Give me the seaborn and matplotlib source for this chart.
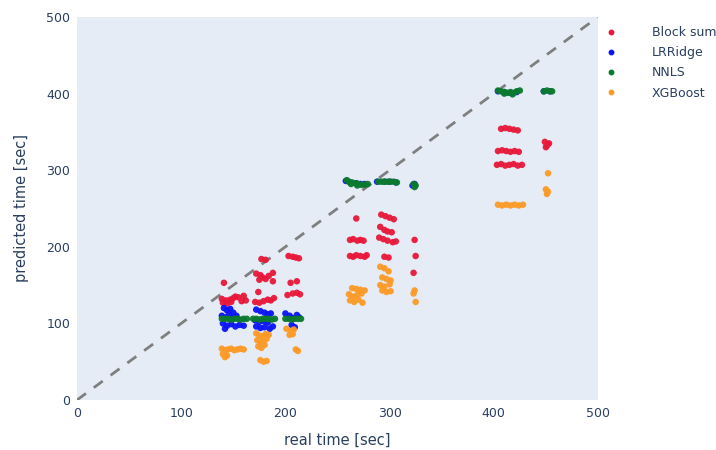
import matplotlib
matplotlib.use("Agg")
import matplotlib.pyplot as plt
import seaborn as sns
import pandas as pd

models = ["Block sum", "LRRidge", "NNLS", "XGBoost"]
colors = ["#E8183A", "#0A14F5", "#0B7A2E", "#FD9A26"]
ticks = [0, 100, 200, 300, 400, 500]

block_sum = [
    (141,153),(160,136),(139,132),(143,130),(147,131),(150,133),(152,135),(155,134),(140,127),(144,126),(148,128),(158,129),(162,130),
    (177,184),(181,183),(172,165),(176,163),(178,160),(181,158),(184,162),(175,157),(188,166),(188,155),(174,141),(171,128),(175,127),(179,129),(183,131),(186,130),(189,133),
    (203,188),(207,187),(210,186),(213,185),(205,153),(211,155),(202,137),(207,139),(211,140),(214,138),
    (268,237),(262,209),(265,210),(269,208),(272,209),(275,208),(262,188),(265,187),(268,189),(272,188),(276,187),(278,189),
    (292,242),(296,240),(300,238),(304,236),(291,226),(295,222),(298,220),(302,219),(290,212),(294,210),(298,208),(303,206),(306,207),(295,187),(299,186),
    (324,209),(325,188),(323,166),
    (407,354),(411,355),(415,354),(419,353),(423,352),(404,325),(408,326),(412,325),(416,324),(420,325),(424,324),
    (403,307),(407,308),(411,306),(415,307),(419,308),(423,306),(427,307),
    (449,337),(452,334),(450,330),(453,335),(451,332),
]
lr_ridge = [
    (141,120),(144,117),(147,119),(150,114),(139,110),(143,108),(146,112),(149,107),(153,110),(140,100),(144,97),(148,99),(152,96),(156,98),(160,97),(142,93),
    (172,118),(176,116),(180,114),(183,112),(186,113),(171,104),(175,102),(179,103),(183,101),(172,96),(176,94),(180,95),(185,93),(188,96),
    (200,113),(204,110),(207,107),(211,111),(213,108),(206,98),(209,95),
    (258,286),(262,284),(268,283),(272,282),(276,282),
    (288,285),(295,285),(300,285),(306,284),
    (322,280),(324,282),
    (404,403),(410,402),(416,401),(422,402),
    (448,403),(454,403),
]
nnls = [
    (139,106),(142,106),(145,106),(148,105),(151,106),(154,106),(157,105),(160,106),(163,106),
    (169,106),(172,106),(175,105),(178,106),(181,106),(184,106),(187,105),(190,106),
    (200,106),(203,106),(206,105),(209,106),(212,106),(215,106),
    (259,287),(261,285),(264,284),(267,283),(270,282),(273,281),(276,281),(279,282),(263,282),(269,280),
    (289,285),(292,285),(295,285),(298,285),(301,285),(304,285),(307,284),
    (323,282),(325,280),(324,278),
    (404,404),(407,403),(410,402),(413,401),(416,402),(419,401),(422,403),(425,404),(410,400),(418,399),
    (448,403),(451,404),(454,403),(456,403),
]
xgboost = [
    (139,67),(142,65),(145,66),(148,67),(151,65),(154,66),(157,67),(160,66),(140,60),(142,56),(144,58),
    (172,87),(175,84),(178,83),(181,86),(184,85),(173,78),(176,75),(179,77),(182,80),(174,70),(177,68),(180,72),(176,52),(179,50),(182,51),
    (201,93),(205,90),(208,92),(204,85),(207,86),(210,66),(212,64),
    (264,146),(268,145),(272,144),(276,143),(261,138),(265,135),(269,137),(273,139),(262,130),(266,128),(270,131),(274,127),
    (291,174),(295,172),(299,168),(293,160),(297,158),(301,156),(291,150),(295,148),(300,151),(293,143),(297,141),(301,142),
    (324,143),(323,139),(325,128),
    (404,255),(408,254),(412,255),(416,254),(420,255),(424,254),(428,255),
    (452,296),(450,275),(452,272),(451,269),
]

rows = []
for name, pts in zip(models, [block_sum, lr_ridge, nnls, xgboost]):
    for x, y in pts:
        rows.append({"real": x, "pred": y, "model": name})
df = pd.DataFrame(rows)

sns.set_style("white")
text_color = "#2a3f5f"
plt.rcParams["font.family"] = ["DejaVu Sans"]

fig = plt.figure(figsize=(7.16, 4.5), dpi=100)
ax = fig.add_axes([77/716, 1-400/450, (598-77)/716, (400-17)/450])
ax.set_facecolor("#E5ECF6")

ax.plot([0, 500], [0, 500], color="#7f7f7f", lw=2, ls=(0, (4, 3.5)), zorder=1)

sns.scatterplot(data=df, x="real", y="pred", hue="model", hue_order=models,
                palette=dict(zip(models, colors)), s=22, linewidth=0,
                alpha=0.95, ax=ax, zorder=2, legend=False)

ax.set_xlim(0, 500)
ax.set_ylim(0, 500)
ax.set_xticks(ticks)
ax.set_yticks(ticks)
ax.set_xticklabels([str(t) for t in ticks])
ax.set_yticklabels([str(t) for t in ticks])
for s in ax.spines.values():
    s.set_visible(False)
ax.tick_params(length=0, labelsize=9, colors=text_color, pad=5)
ax.set_xlabel("real time [sec]", fontsize=10.5, color=text_color, labelpad=9)
ax.set_ylabel("predicted time [sec]", fontsize=10.5, color=text_color, labelpad=12)

handles = [plt.Line2D([], [], marker="o", ls="", color=c, markersize=3.2) for c in colors]
leg = fig.legend(handles, models, loc="upper left", bbox_to_anchor=(603/716, 1-26/450),
                 frameon=False, fontsize=9, labelcolor=text_color, handletextpad=2.7,
                 handlelength=1.2, labelspacing=0.58, borderaxespad=0, borderpad=0)

fig.savefig("out.png", dpi=100)
